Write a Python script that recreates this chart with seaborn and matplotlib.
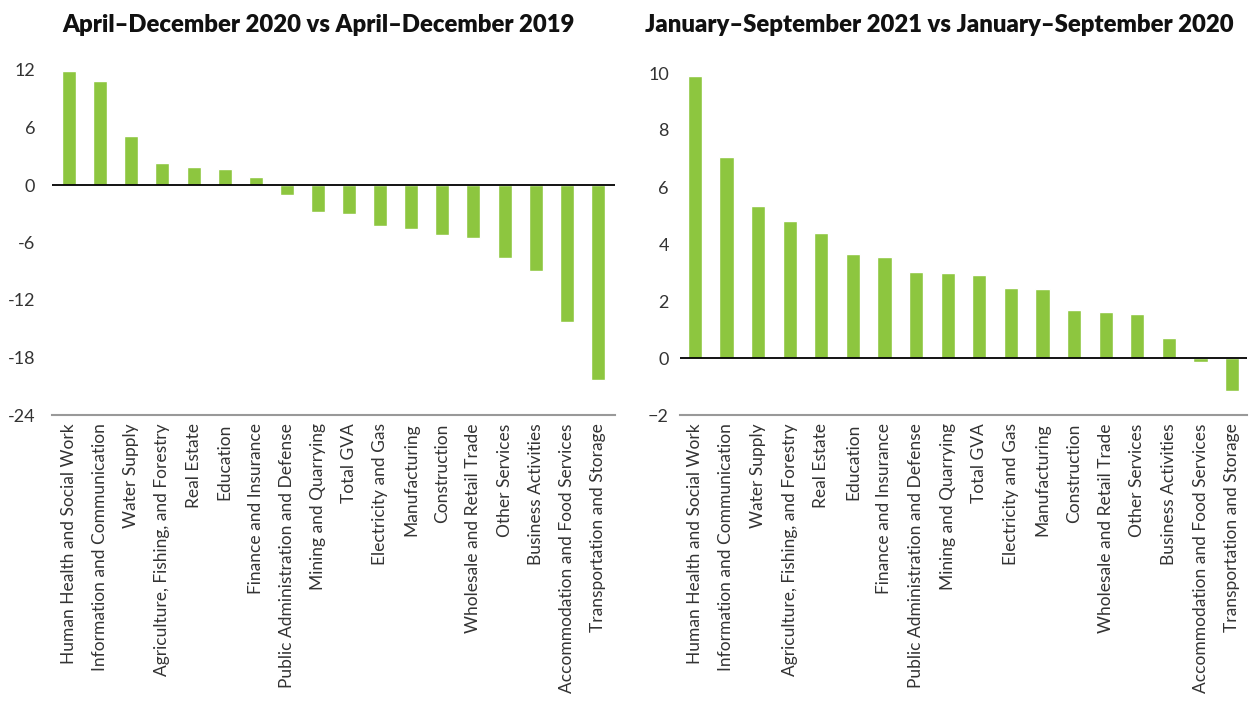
import numpy as np
import pandas as pd
import matplotlib
matplotlib.use("Agg")
import matplotlib.pyplot as plt
import seaborn as sns

# Sectores (mismo orden en ambos paneles)
sectors = [
    "Human Health and Social Work", "Information and Communication", "Water Supply",
    "Agriculture, Fishing, and Forestry", "Real Estate", "Education",
    "Finance and Insurance", "Public Administration and Defense", "Mining and Quarrying",
    "Total GVA", "Electricity and Gas", "Manufacturing", "Construction",
    "Wholesale and Retail Trade", "Other Services", "Business Activities",
    "Accommodation and Food Services", "Transportation and Storage",
]

# Crecimiento (%) abril-diciembre 2020 vs 2019
growth_2020 = [11.9, 10.9, 5.15, 2.3, 1.9, 1.7, 0.87, -1.0, -2.8, -3.05, -4.25, -4.57,
               -5.2, -5.5, -7.65, -8.95, -14.3, -20.35]

# Crecimiento (%) enero-septiembre 2021 vs 2020
growth_2021 = [9.9, 7.05, 5.33, 4.8, 4.37, 3.65, 3.54, 3.02, 2.98, 2.9, 2.45, 2.41,
               1.68, 1.61, 1.54, 0.69, -0.13, -1.16]

titles = ["April\u2013December 2020 vs April\u2013December 2019",
          "January\u2013September 2021 vs January\u2013September 2020"]
yticks_left = [12, 6, 0, -6, -12, -18, -24]
yticks_right = [10, 8, 6, 4, 2, 0, -2]

sns.set_theme(style="white")
plt.rcParams['font.family'] = ['Lato', 'DejaVu Sans']

green = "#8DC63F"
fig = plt.figure(figsize=(12.49, 7.02), dpi=100)
ax1 = fig.add_axes([52 / 1249, 1 - 415 / 702, 563 / 1249, 345 / 702])
ax2 = fig.add_axes([680 / 1249, 1 - 415 / 702, 567 / 1249, 342 / 702])

panels = [
    (ax1, growth_2020, (-24, 12), yticks_left, titles[0], (-0.55, 17.55), 62, 12),
    (ax2, growth_2021, (-2, 10), yticks_right, titles[1], (-0.47, 17.47), 645, 8),
]

for ax, vals, ylim, yt, title, xlim, tx, ypad in panels:
    df = pd.DataFrame({"sector": sectors, "value": vals})
    sns.barplot(data=df, x="sector", y="value", order=sectors, color=green,
                width=0.45, saturation=1, ax=ax)
    ax.set_ylim(*ylim)
    ax.set_xlim(*xlim)
    ax.set_yticks(yt)
    ax.set_yticklabels([str(v).replace("-", "\u2212") if ax is ax2 else str(v) for v in yt])
    ax.set_xlabel("")
    ax.set_ylabel("")
    ax.axhline(0, color="black", lw=1.3, zorder=3)
    for s in ["top", "left", "right"]:
        ax.spines[s].set_visible(False)
    ax.spines["bottom"].set_color("#999999")
    ax.spines["bottom"].set_linewidth(1.5)
    ax.tick_params(axis="x", rotation=90, labelsize=12.5, colors="#333333", length=0, pad=6)
    ax.tick_params(axis="y", labelsize=13, colors="#333333", length=0, pad=ypad)
    fig.text(tx / 1249, 1 - 25 / 702, title, fontsize=17.2, fontweight="heavy",
             color="#111111", ha="left", va="center")

fig.savefig("out.png", dpi=100)
